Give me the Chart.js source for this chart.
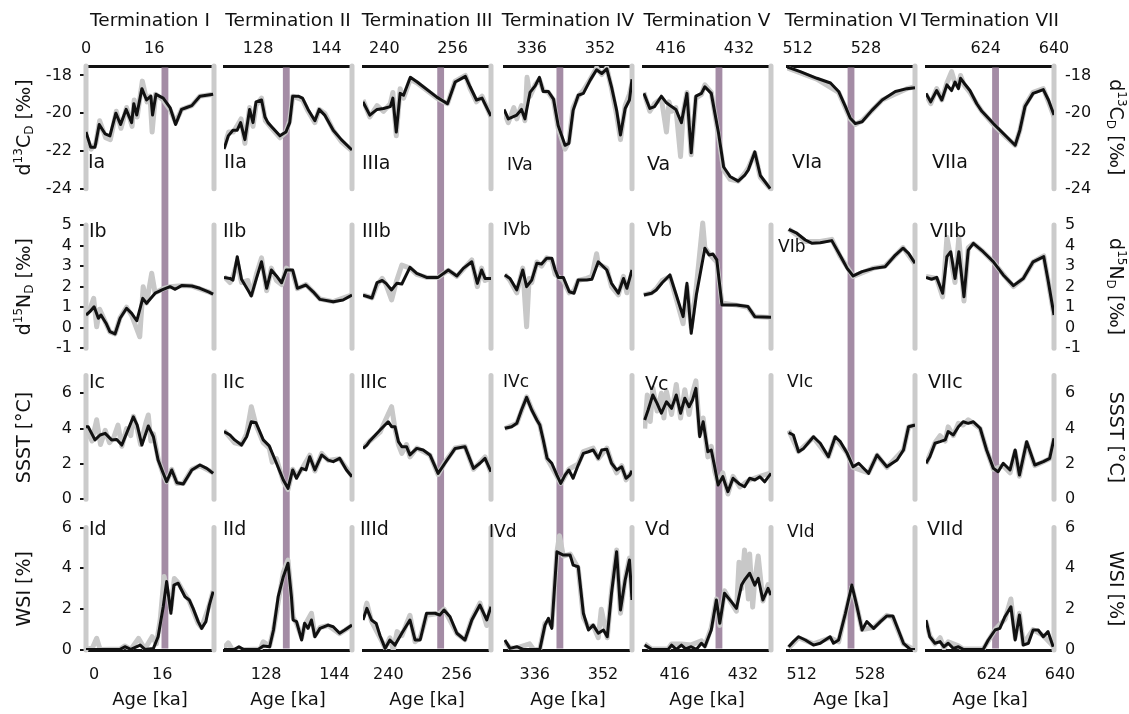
<!DOCTYPE html>
<html>
<head>
<meta charset="utf-8">
<title>Terminations I–VII</title>
<script src="https://cdn.jsdelivr.net/npm/chart.js@4.4.1/dist/chart.umd.min.js"></script>
<style>
  html, body { margin: 0; padding: 0; background: #fff; }
  #fig { position: relative; width: 1129px; height: 714px; overflow: hidden; }
  #fig canvas { position: absolute; top: 0; }
</style>
</head>
<body>
<div id="fig"></div>
<script>
// --- columns (one per termination) ---
const terminations = ['I', 'II', 'III', 'IV', 'V', 'VI', 'VII'];
const ageRanges = [[0, 30], [120, 150], [235, 265], [329.5, 359.5], [409.5, 439.5], [509.5, 539.5], [610, 640]];
const ageTicks = [[0, 16], [128, 144], [240, 256], [336, 352], [416, 432], [512, 528], [624, 640]];
const bandAges = [18.5, 134.6, 253.2, 342.6, 427.3, 524.5, 626.3];
const bandWidth = 1.6;

// --- rows (one per proxy) ---
const rowLetters = ['a', 'b', 'c', 'd'];
const rowRanges = [[-24, -17.5], [-1, 5], [0, 7], [0, 6]];
const rowTicks = [[-24, -22, -20, -18], [-1, 0, 1, 2, 3, 4, 5], [0, 2, 4, 6], [0, 2, 4, 6]];

// --- series: [age ka, value], one list per column ---
const d13cBlack = [
  [[0,-21.0],[1.1,-21.8],[2.1,-21.8],[3.1,-20.6],[4.5,-21.1],[5.6,-21.2],[7.0,-20.0],[8.1,-20.6],[9.4,-19.8],[10.7,-20.5],[11.2,-19.5],[11.9,-20.1],[13.1,-18.7],[14.2,-19.3],[15.2,-19.1],[15.6,-20.1],[16.4,-19.0],[18.1,-19.2],[19.7,-19.7],[21.0,-20.6],[22.4,-19.8],[23.6,-19.7],[24.8,-19.6],[26.7,-19.1],[29.8,-19.0]],
  [[120,-21.9],[121.0,-21.2],[122.1,-20.9],[123.1,-20.9],[123.9,-20.5],[124.9,-21.4],[126.0,-19.8],[126.8,-20.5],[127.5,-19.4],[128.8,-19.3],[129.6,-20.2],[130.3,-20.5],[131.1,-20.7],[133.1,-21.2],[134.5,-21.0],[135.4,-20.5],[136.1,-19.1],[137.4,-19.1],[138.4,-19.2],[139.7,-19.8],[141.3,-20.4],[142.3,-19.8],[143.6,-20.1],[145.6,-20.9],[147.5,-21.4],[150,-21.95]],
  [[235,-19.4],[236.6,-20.1],[238.3,-19.8],[239.8,-19.75],[241.4,-19.65],[242.0,-19.2],[242.8,-21.0],[243.7,-18.95],[244.5,-19.05],[246.1,-18.1],[247.7,-18.35],[252.3,-19.15],[254.8,-19.5],[256.6,-18.35],[259.0,-18.05],[260.1,-18.6],[261.6,-19.3],[262.9,-19.2],[265,-20.15]],
  [[329.5,-19.8],[330.5,-20.3],[332.5,-20.1],[333.6,-19.8],[334.4,-20.3],[335.6,-18.9],[336.8,-18.55],[337.8,-18.1],[338.7,-18.85],[339.9,-18.85],[341.1,-19.25],[342.2,-20.65],[343.8,-21.7],[344.7,-21.6],[345.7,-19.85],[346.9,-19.05],[348.1,-18.95],[349.7,-18.25],[351.2,-17.7],[352.4,-17.9],[353.6,-17.65],[354.7,-18.6],[355.9,-19.85],[356.8,-21.15],[357.9,-19.75],[358.9,-19.3],[359.5,-18.2]],
  [[409.7,-18.95],[411.1,-19.75],[412.2,-19.65],[413.8,-19.1],[415.0,-19.45],[416.2,-19.65],[417.2,-19.8],[418.5,-20.5],[419.8,-18.95],[420.8,-22.1],[421.9,-19.1],[423.2,-18.95],[424.0,-18.6],[425.5,-18.95],[427.2,-21.05],[428.4,-22.85],[429.9,-23.35],[431.8,-23.6],[433.3,-23.3],[434.2,-23.0],[435.7,-22.05],[437.0,-23.3],[439.3,-24.0]],
  [[509.5,-17.55],[512.6,-17.8],[516.5,-18.15],[519.7,-18.4],[521.6,-18.85],[523.2,-19.65],[524.3,-20.25],[525.5,-20.55],[527.1,-20.45],[529.4,-19.85],[531.8,-19.3],[534.9,-18.85],[537.6,-18.7],[539.5,-18.65]],
  [[610,-18.95],[611.1,-19.4],[612.5,-18.8],[613.7,-19.3],[614.9,-18.5],[616.0,-18.8],[616.8,-18.35],[617.6,-18.7],[618.1,-18.15],[618.9,-18.4],[620.3,-18.8],[621.9,-19.5],[623.1,-19.9],[625.8,-20.55],[628.9,-21.25],[630.9,-21.7],[632.0,-20.9],[633.2,-19.65],[635.1,-18.95],[637.5,-18.75],[638.7,-19.3],[640,-20.1]]
];
const d13cGrey = [
  [[0,-21.2],[1.2,-21.9],[2.3,-21.6],[3.2,-20.4],[4.6,-21.3],[5.7,-21.4],[7.1,-19.9],[8.2,-20.8],[9.5,-19.7],[10.8,-20.7],[11.3,-19.3],[12.0,-20.2],[13.2,-18.3],[14.3,-19.4],[15.0,-19.1],[15.5,-21.0],[16.3,-19.0],[18.1,-19.3],[19.7,-19.8],[21.0,-20.5],[22.4,-19.8],[24.8,-19.6],[26.7,-19.1],[29.8,-19.0]],
  [[120,-21.8],[121.1,-21.0],[122.2,-21.0],[123.0,-20.7],[124.0,-20.3],[124.9,-21.6],[126.0,-19.7],[126.8,-20.7],[127.5,-19.6],[128.8,-19.2],[129.7,-20.4],[131.2,-20.8],[133.1,-21.3],[134.5,-21.0],[135.4,-20.4],[136.1,-19.1],[138.4,-19.3],[139.7,-19.9],[141.3,-20.5],[142.3,-19.8],[143.6,-20.0],[145.6,-20.9],[147.5,-21.5],[150,-22.0]],
  [[235,-19.3],[236.6,-20.2],[238.3,-19.6],[239.8,-19.9],[241.4,-19.5],[242.0,-18.9],[242.8,-21.2],[243.7,-18.7],[244.5,-19.2],[246.1,-18.2],[247.7,-18.4],[252.3,-19.2],[254.8,-19.5],[256.6,-18.3],[259.0,-18.0],[260.1,-18.7],[261.6,-19.4],[262.9,-19.1],[265,-20.2]],
  [[329.5,-19.9],[330.5,-20.5],[331.8,-19.7],[332.5,-20.3],[333.6,-19.6],[334.4,-20.4],[334.9,-18.1],[335.6,-19.1],[336.8,-18.5],[337.8,-18.2],[338.7,-18.8],[339.9,-18.9],[341.1,-19.3],[342.2,-20.8],[343.8,-21.9],[344.7,-21.5],[345.7,-19.7],[346.9,-19.1],[348.1,-18.8],[349.7,-18.2],[351.2,-17.6],[352.4,-17.95],[353.6,-17.6],[354.7,-18.7],[355.9,-20.1],[356.8,-21.4],[357.9,-19.6],[358.9,-19.0],[359.5,-18.4]],
  [[409.7,-18.9],[411.1,-19.9],[412.2,-19.5],[413.8,-19.2],[415.0,-21.0],[415.6,-19.4],[416.2,-19.9],[417.2,-19.7],[418.3,-22.3],[418.9,-20.0],[419.8,-18.9],[420.8,-22.2],[421.9,-19.2],[423.2,-19.0],[424.0,-18.5],[425.5,-18.9],[427.2,-21.2],[428.4,-23.0],[429.9,-23.5],[431.8,-23.6],[433.3,-23.2],[434.2,-22.9],[435.7,-22.1],[437.0,-23.4],[439.3,-24.0]],
  [[509.5,-17.6],[516.5,-18.2],[521.6,-18.9],[524.3,-20.3],[525.5,-20.6],[527.1,-20.4],[531.8,-19.3],[537.6,-18.7],[539.5,-18.6]],
  [[610,-19.0],[611.1,-19.5],[612.5,-18.7],[613.7,-19.3],[614.9,-18.4],[616.0,-17.8],[616.8,-18.4],[617.6,-18.6],[618.1,-18.0],[618.9,-18.5],[620.3,-18.9],[621.9,-19.5],[623.1,-19.9],[625.8,-20.6],[628.9,-21.3],[630.9,-21.7],[632.0,-20.9],[633.2,-19.6],[635.1,-18.9],[637.5,-18.7],[638.7,-19.4],[640,-20.2]]
];
const d15nBlack = [
  [[0,0.62],[0.9,0.78],[1.9,1.02],[2.9,0.46],[3.5,0.62],[4.7,0.22],[5.6,-0.19],[6.8,-0.3],[8.0,0.46],[9.5,0.95],[10.7,0.7],[11.9,0.34],[13.3,1.43],[14.2,1.19],[16.2,1.68],[18.1,1.87],[19.7,2.0],[20.9,1.87],[22.4,2.05],[24.8,2.03],[26.7,1.92],[28.7,1.75],[29.8,1.64]],
  [[120,2.45],[121.4,2.4],[122.1,2.32],[123.1,3.46],[124.1,2.36],[125.6,1.84],[126.4,1.55],[127.6,2.4],[128.8,3.21],[130.0,1.92],[131.1,2.81],[132.3,2.52],[133.5,2.19],[134.6,2.81],[136.1,2.81],[137.2,1.92],[139.2,2.08],[140.9,1.75],[142.5,1.38],[145.6,1.27],[147.9,1.35],[150,1.59]],
  [[235,1.59],[236.2,1.51],[237.1,1.45],[238.3,2.2],[239.5,2.3],[240.4,2.16],[241.7,1.84],[242.9,2.16],[244.1,2.13],[246.0,2.94],[247.6,2.65],[249.9,2.45],[252.6,2.45],[255.0,2.81],[257.0,2.52],[258.5,2.89],[260.5,3.21],[261.8,2.16],[262.8,2.81],[263.6,2.4],[265,2.4]],
  [[329.7,2.57],[330.9,2.4],[332.5,1.84],[333.9,2.81],[334.8,2.0],[336.0,2.32],[337.2,3.14],[338.3,3.1],[339.5,3.38],[340.7,3.38],[341.5,2.81],[342.2,2.45],[343.4,2.45],[344.8,1.75],[345.9,1.68],[346.9,2.32],[348.9,2.32],[350.1,2.36],[351.6,3.21],[353.6,2.81],[354.7,2.16],[356.3,1.68],[357.5,2.4],[358.3,1.92],[359.5,2.81]],
  [[409.7,1.59],[411.5,1.68],[412.6,1.84],[414.0,2.19],[415.8,2.57],[417.3,1.59],[418.9,0.54],[419.8,2.16],[420.8,-0.27],[422.0,1.59],[424.0,3.87],[425.0,3.54],[425.9,3.59],[426.8,3.3],[428.0,1.11],[431.4,1.11],[434.1,1.03],[435.7,0.54],[439.5,0.51]],
  [[509.9,4.79],[511.8,4.6],[513.8,4.27],[515.4,4.11],[517.3,4.14],[520.0,4.24],[521.9,3.54],[523.6,2.89],[525.0,2.52],[527.1,2.73],[529.8,2.89],[532.5,2.97],[534.9,3.54],[536.7,3.87],[538.0,3.62],[539.5,3.14]],
  [[610,2.45],[611.3,2.36],[612.5,2.45],[613.9,1.68],[614.9,3.46],[615.8,3.7],[616.8,2.4],[617.7,3.7],[618.9,1.51],[619.9,3.78],[621.1,4.11],[623.4,3.7],[625.8,3.21],[628.1,2.57],[630.5,2.05],[632.8,2.4],[635.1,3.21],[637.6,3.46],[638.6,2.32],[640,0.62]]
];
const d15nGrey = [
  [[0,0.6],[0.9,0.9],[1.8,1.43],[2.5,0.05],[3.2,0.9],[4.7,0.2],[5.6,-0.2],[6.8,-0.3],[8.0,0.5],[9.5,1.0],[10.7,0.6],[12.6,-0.44],[13.4,2.0],[14.2,1.2],[15.4,2.65],[16.2,1.7],[18.1,1.9],[19.7,2.0],[22.4,2.05],[24.8,2.03],[28.7,1.75],[29.8,1.64]],
  [[120,2.5],[121.4,2.2],[122.1,2.5],[123.1,3.2],[124.1,2.2],[125.6,2.3],[126.4,1.6],[127.6,2.6],[128.8,3.4],[130.0,1.8],[131.1,2.9],[132.3,2.3],[133.5,2.1],[134.6,2.9],[136.1,2.7],[137.2,1.9],[139.2,2.1],[142.5,1.4],[145.6,1.27],[150,1.6]],
  [[235,1.6],[237.1,1.45],[238.3,2.1],[239.5,2.4],[240.4,2.1],[241.7,1.35],[242.9,2.3],[244.1,3.05],[246.0,2.9],[247.6,2.6],[249.9,2.45],[252.6,2.45],[255.0,2.8],[257.0,2.5],[260.5,3.3],[261.8,2.0],[262.8,2.9],[263.6,2.3],[265,2.4]],
  [[329.7,2.6],[330.9,2.3],[332.5,1.7],[333.9,2.9],[334.8,0.05],[335.4,2.4],[336.0,2.2],[337.2,3.2],[338.3,3.0],[339.5,3.4],[340.7,3.3],[341.5,2.6],[342.2,2.5],[343.4,2.3],[344.8,1.7],[345.9,1.8],[346.9,2.3],[348.9,2.4],[350.1,2.5],[351.2,3.6],[351.6,3.1],[353.6,2.9],[354.7,2.0],[356.3,1.6],[357.5,2.5],[358.3,1.7],[359.5,2.7]],
  [[409.7,1.6],[411.5,1.7],[412.6,1.9],[414.0,2.3],[415.8,2.5],[417.3,1.4],[418.9,0.2],[419.8,2.0],[420.8,0.0],[422.0,2.0],[423.5,5.1],[424.0,3.9],[425.0,3.6],[426.8,3.2],[428.0,1.2],[431.4,1.1],[434.1,1.0],[435.7,0.55],[439.5,0.5]],
  [[509.9,4.8],[513.8,4.2],[517.3,4.2],[520.0,4.3],[521.9,3.5],[525.0,2.5],[529.8,2.9],[532.5,3.0],[536.7,3.9],[539.5,3.1]],
  [[610,2.5],[612.5,2.4],[613.9,1.5],[614.9,4.4],[615.8,3.4],[616.8,2.2],[617.7,4.4],[618.9,1.3],[619.9,3.9],[621.1,4.1],[623.4,3.7],[625.8,3.2],[628.1,2.6],[630.5,2.0],[632.8,2.4],[635.1,3.2],[637.6,3.5],[638.6,2.3],[640,0.6]]
];
const ssstBlack = [
  [[0,4.1],[0.5,4.11],[2.1,3.36],[3.3,3.64],[4.5,3.73],[6.0,3.36],[7.2,3.39],[8.4,3.07],[9.5,3.73],[11.1,4.67],[12.0,4.2],[13.1,3.07],[14.6,4.15],[15.8,3.54],[16.9,2.22],[18.1,1.47],[18.9,1.0],[20.1,1.66],[21.3,0.94],[22.8,0.87],[24.8,1.66],[26.7,1.94],[28.3,1.75],[29.8,1.47]],
  [[120,3.83],[121.4,3.64],[122.5,3.36],[124.1,3.07],[125.3,3.54],[126.4,4.39],[127.5,4.33],[129.2,3.36],[130.6,3.02],[132.3,2.04],[133.9,1.09],[135.0,0.62],[136.1,1.66],[137.0,1.19],[138.2,1.75],[139.2,1.66],[140.1,2.41],[141.3,1.66],[142.9,2.51],[144.4,2.22],[145.6,2.13],[147.1,2.32],[148.7,1.66],[150,1.28]],
  [[235,2.88],[235.9,3.07],[236.6,3.3],[239.0,3.92],[240.9,4.39],[241.7,4.11],[242.5,4.11],[243.3,3.26],[244.1,2.98],[245.2,2.98],[246.0,2.51],[247.6,2.88],[249.1,2.79],[250.7,2.51],[252.6,1.47],[254.2,2.04],[256.6,2.88],[258.9,2.98],[260.9,1.75],[262.4,2.04],[263.6,2.32],[265,1.56]],
  [[329.7,4.02],[331.3,4.11],[332.5,4.3],[333.6,5.05],[334.8,5.77],[336.0,5.05],[337.2,4.49],[337.9,4.2],[338.7,3.36],[339.6,2.32],[340.7,2.04],[341.9,1.37],[342.8,0.9],[343.8,1.37],[344.7,1.66],[345.7,1.19],[346.9,1.94],[348.1,2.6],[349.3,2.69],[350.4,2.79],[351.6,2.32],[352.4,2.79],[353.6,2.83],[354.7,2.04],[355.9,1.66],[357.1,1.84],[358.1,1.19],[359.0,1.37],[359.5,1.62]],
  [[409.9,4.49],[410.7,5.05],[411.8,5.9],[412.8,5.43],[413.8,4.87],[415.0,5.52],[416.2,5.15],[417.3,5.9],[418.3,4.87],[419.3,5.72],[420.3,5.24],[421.1,5.62],[421.9,6.28],[422.8,3.54],[423.6,4.39],[424.7,2.69],[425.5,2.79],[426.3,1.84],[427.1,0.81],[428.2,1.28],[429.4,0.43],[430.6,1.19],[432.2,0.85],[433.3,0.71],[434.5,1.19],[435.7,1.09],[436.9,1.28],[438.0,0.99],[439.5,1.47]],
  [[509.9,3.77],[511.0,3.64],[512.2,2.69],[513.4,2.88],[515.7,3.54],[517.3,3.17],[519.2,2.41],[520.8,3.54],[522.0,3.26],[523.6,2.6],[525.0,1.84],[526.3,2.04],[528.6,1.47],[530.6,2.51],[532.9,1.84],[535.3,2.22],[536.8,2.79],[538.0,4.11],[539.5,4.2]],
  [[610,2.04],[610.9,2.41],[612.1,3.17],[613.3,3.26],[614.5,3.36],[615.2,3.83],[616.4,3.64],[617.6,4.11],[618.7,4.39],[619.9,4.3],[621.1,4.39],[622.7,4.02],[624.2,2.79],[625.8,1.75],[626.9,1.56],[628.1,2.04],[629.7,1.66],[630.9,2.79],[631.9,1.37],[633.6,3.26],[635.5,1.94],[637.5,2.13],[639.0,2.32],[640,3.45]]
];
const ssstGrey = [
  [[0,4.0],[1.4,3.3],[2.5,4.5],[3.4,3.1],[4.5,3.9],[5.5,3.2],[6.5,3.5],[7.5,4.2],[8.4,3.0],[9.5,4.0],[10.5,3.6],[11.1,4.7],[12.0,4.0],[12.8,3.1],[14.0,4.3],[14.6,4.77],[15.2,3.3],[15.8,3.7],[16.9,2.3],[18.1,1.4],[18.9,1.0],[20.1,1.7],[21.3,0.9],[22.8,0.9],[24.8,1.7],[26.7,1.9],[29.8,1.5]],
  [[120,3.9],[122.5,3.2],[124.1,3.1],[125.3,3.7],[126.4,5.24],[127.5,4.2],[129.2,3.2],[130.6,2.9],[131.3,2.1],[132.3,2.3],[133.9,1.0],[135.0,0.55],[136.1,1.7],[137.0,1.3],[138.2,1.7],[140.1,2.5],[141.3,1.6],[142.9,2.6],[144.4,2.2],[147.1,2.3],[150,1.3]],
  [[235,2.9],[236.6,3.3],[239.0,3.8],[240.3,4.5],[241.7,5.24],[242.5,4.0],[243.3,3.1],[244.1,2.6],[245.2,3.1],[246.0,2.4],[247.6,2.9],[250.7,2.5],[252.6,1.4],[254.2,2.1],[256.6,2.9],[258.9,3.0],[260.9,1.7],[263.6,2.4],[265,1.5]],
  [[329.7,4.0],[332.5,4.3],[333.6,5.0],[334.8,5.8],[336.0,5.1],[337.9,4.2],[339.6,2.3],[341.9,1.3],[342.8,0.9],[344.7,1.7],[346.9,2.0],[348.1,2.7],[350.4,2.9],[351.6,2.3],[353.6,2.9],[354.7,2.1],[355.9,1.5],[357.1,1.9],[358.1,1.1],[359.5,1.6]],
  [[409.9,4.0],[410.5,5.9],[411.2,4.4],[411.8,6.3],[412.8,5.0],[413.8,6.0],[414.4,4.6],[415.0,6.1],[416.2,4.8],[417.3,6.5],[418.3,4.6],[419.3,6.2],[420.3,4.8],[421.1,6.0],[421.9,6.7],[422.8,3.7],[423.6,4.6],[424.7,2.4],[425.5,3.0],[426.3,1.6],[427.1,0.9],[428.2,1.5],[429.4,0.3],[430.6,1.3],[432.2,0.7],[433.3,0.9],[434.5,1.1],[436.9,1.3],[439.5,1.5]],
  [[509.9,3.9],[512.2,2.7],[515.7,3.5],[519.2,2.4],[520.8,3.5],[523.6,2.6],[525.0,1.8],[528.6,1.5],[530.6,2.5],[532.9,1.8],[536.8,2.8],[538.0,4.1],[539.5,4.2]],
  [[610,2.0],[612.1,3.2],[613.3,3.6],[614.5,3.3],[615.2,4.1],[616.4,3.6],[617.6,4.3],[618.7,4.2],[619.9,4.5],[621.1,4.3],[622.7,4.0],[624.2,2.8],[625.8,1.7],[628.1,1.9],[629.7,1.5],[630.9,2.7],[631.9,1.3],[633.6,3.2],[635.5,1.9],[639.0,2.3],[640,3.4]]
];
const wsiBlack = [
  [[0,0.03],[8.0,0.03],[9.1,0.16],[10.5,0.03],[12.7,0.24],[13.8,0.03],[15.8,0.08],[16.9,0.65],[18.1,2.12],[18.9,3.35],[19.9,1.8],[20.6,3.18],[21.6,3.27],[22.4,2.94],[23.2,2.61],[24.2,2.45],[25.1,2.04],[26.3,1.39],[27.1,1.06],[28.1,1.39],[28.9,2.2],[29.8,2.86]],
  [[120,0.03],[122.5,0.03],[123.5,0.16],[124.5,0.03],[128.0,0.03],[129.2,0.2],[130.7,0.16],[131.6,0.98],[132.7,2.61],[133.9,3.59],[135.0,4.25],[135.8,2.61],[136.2,1.47],[137.0,1.39],[138.2,0.49],[138.9,1.31],[139.7,1.06],[140.5,1.47],[141.3,0.65],[142.5,1.06],[144.4,1.22],[145.6,1.14],[147.1,0.82],[148.3,0.98],[150,1.22]],
  [[235,1.47],[235.9,2.04],[237.0,1.47],[238.1,1.3],[239.0,0.7],[240.2,0.08],[241.3,0.49],[242.5,0.24],[244.1,0.82],[246.0,1.47],[247.2,0.49],[248.4,0.49],[249.9,1.8],[251.9,1.8],[253.0,1.71],[254.0,1.96],[255.4,1.63],[257.0,0.82],[258.9,0.49],[260.5,1.47],[262.4,2.2],[264.0,1.47],[265,2.12]],
  [[329.7,0.49],[330.9,0.08],[332.5,0.16],[334.0,0.03],[337.9,0.03],[339.1,1.22],[339.9,1.55],[340.7,1.06],[341.9,4.81],[343.4,4.65],[345.0,4.65],[345.7,4.16],[346.9,4.08],[348.1,1.8],[349.3,0.98],[350.4,1.22],[351.6,0.82],[352.8,0.98],[353.7,0.65],[354.7,2.78],[355.9,4.81],[356.8,1.96],[357.9,3.43],[358.9,4.41],[359.5,2.45]],
  [[409.9,0.24],[411.5,0.03],[415.4,0.03],[416.2,0.24],[417.3,0.03],[418.5,0.24],[419.5,0.05],[420.8,0.16],[422.0,0.03],[423.2,0.33],[424.0,0.16],[425.5,0.98],[426.7,2.45],[427.5,1.31],[428.6,2.78],[430.2,2.37],[431.4,2.04],[432.6,3.18],[433.3,3.43],[434.5,3.76],[435.7,3.18],[436.5,3.51],[437.6,2.45],[438.8,3.02],[439.5,2.69]],
  [[509.9,0.16],[511.0,0.41],[512.2,0.65],[513.8,0.49],[515.7,0.24],[517.3,0.33],[519.6,0.65],[520.4,0.33],[521.6,0.49],[523.2,1.8],[524.7,3.18],[525.9,2.12],[527.1,0.98],[528.2,1.39],[529.8,1.06],[531.4,1.39],[532.9,1.67],[534.3,1.67],[535.3,1.14],[536.8,0.33],[538.4,0.03],[539.5,0.03]],
  [[610,1.47],[610.9,0.65],[612.1,0.33],[613.3,0.41],[614.2,0.16],[615.2,0.33],[616.4,0.08],[617.6,0.16],[618.7,0.03],[623.4,0.03],[624.6,0.49],[626.2,0.98],[627.3,1.06],[628.5,1.63],[629.9,2.12],[630.9,0.49],[631.9,1.71],[632.8,0.24],[634.0,0.33],[635.1,0.98],[636.3,0.98],[637.5,0.65],[638.6,0.9],[639.8,0.16]]
];
const wsiGrey = [
  [[0,0.03],[1.5,0.1],[2.5,0.57],[3.3,0.03],[8.0,0.05],[9.1,0.2],[10.5,0.03],[12.3,0.57],[13.8,0.05],[15.5,0.65],[16.5,0.3],[17.4,1.5],[18.3,3.6],[19.9,2.0],[20.7,3.5],[21.6,3.3],[22.4,3.0],[24.2,2.4],[26.3,1.3],[27.1,1.1],[28.9,2.2],[29.8,2.9]],
  [[120,0.1],[121.0,0.35],[122.0,0.0],[128.5,0.05],[129.2,0.4],[130.7,0.2],[131.6,1.0],[133.9,3.8],[135.0,4.4],[135.8,2.7],[136.2,1.6],[137.0,1.3],[138.2,0.6],[138.9,1.2],[140.5,1.8],[141.3,0.7],[142.5,1.1],[144.4,1.2],[147.1,0.8],[150,1.2]],
  [[235,1.6],[235.9,2.3],[237.0,1.4],[239.0,0.6],[240.2,0.1],[241.3,0.6],[242.1,0.0],[243.0,0.9],[244.1,0.7],[246.0,1.7],[247.2,0.4],[248.4,0.6],[249.9,1.7],[253.0,1.8],[254.0,2.0],[257.0,0.8],[258.9,0.5],[260.5,1.5],[262.4,2.3],[264.0,1.2],[265,2.2]],
  [[329.7,0.4],[330.9,0.1],[332.5,0.1],[335.5,0.3],[336.5,0.0],[337.9,0.05],[339.1,1.3],[339.9,1.4],[340.7,1.2],[341.9,4.8],[342.5,5.6],[343.4,4.6],[345.0,4.7],[346.9,4.0],[348.1,1.6],[349.3,1.1],[350.4,1.2],[351.6,0.6],[352.3,2.0],[353.7,0.6],[354.7,2.9],[355.9,4.9],[356.8,1.8],[357.9,3.5],[358.9,4.5],[359.5,2.6]],
  [[409.9,0.3],[411.5,0.05],[415.4,0.05],[416.2,0.3],[418.5,0.3],[420.8,0.25],[423.2,0.45],[424.0,0.2],[425.5,1.1],[426.7,2.5],[427.5,1.2],[428.6,2.9],[430.2,2.3],[431.4,1.9],[432.0,4.3],[432.6,3.0],[433.3,4.9],[434.2,2.5],[434.5,4.7],[435.2,2.1],[435.7,3.4],[436.5,4.6],[437.6,2.4],[438.8,3.2],[439.5,2.7]],
  [[509.9,0.1],[512.2,0.6],[515.7,0.3],[519.6,0.6],[521.6,0.4],[523.2,1.8],[524.7,3.1],[525.9,2.1],[527.1,1.0],[529.8,1.1],[532.9,1.7],[534.3,1.6],[536.8,0.3],[539.5,0.0]],
  [[610,1.4],[610.9,0.7],[612.1,0.3],[613.3,0.6],[614.2,0.1],[615.2,0.4],[617.6,0.2],[618.7,0.05],[623.4,0.05],[626.2,1.0],[628.5,1.5],[629.9,2.5],[630.9,0.6],[631.9,1.8],[632.8,0.3],[635.1,1.0],[637.5,0.7],[639.8,0.2]]
];

const blackRows = [d13cBlack, d15nBlack, ssstBlack, wsiBlack];
const greyRows = [d13cGrey, d15nGrey, ssstGrey, wsiGrey];

// y-axis titles: [text, 0 normal | 1 superscript | -1 subscript]
const yTitles = [
  [['d', 0], ['13', 1], ['C', 0], ['D', -1], [' [‰]', 0]],
  [['d', 0], ['15', 1], ['N', 0], ['D', -1], [' [‰]', 0]],
  [['SSST [°C]', 0]],
  [['WSI [%]', 0]]
];

// --- layout (page pixels) ---
const colLeft = [86, 224, 363, 504, 643, 787, 926];
const plotWidth = 128;
const rowPixels = [[66, 188.7], [225, 348.3], [375.6, 499.3], [527.5, 650]];
const segBounds = [66, 206.85, 361.95, 513.4, 650];
const bottomShift = [8, 8, 4, 3, 4, 4, 6];
const labelDx = [[2, 0, -1, 3, 4, 5, 6], [3, -1, -1, -1, 4, -9, 4], [3, -1, -3, -1, 2, 0, 2], [3, -1, -3, -15, 2, 0, 1]];
const labelY = [[163, 163, 164, 166, 165, 163, 163], [232, 232, 232, 231, 231, 248, 232], [383, 383, 383, 383, 385, 383, 383], [530, 530, 530, 533, 530, 533, 530]];

const INK = '#111111';
const GREY_LINE = '#c8c8c8';
const GREY_BAR = '#cbcbcb';
const PURPLE = '#a48ca5';
const FONT = '"DejaVu Sans", sans-serif';

Chart.defaults.font.family = FONT;
Chart.defaults.font.size = 16;
Chart.defaults.color = INK;

// purple termination band over the whole column
const bandPlugin = {
  id: 'band',
  beforeDatasetsDraw(chart, args, opts) {
    const { ctx, chartArea } = chart;
    const x = chart.scales.x;
    const a = x.getPixelForValue(opts.age - bandWidth / 2);
    const b = x.getPixelForValue(opts.age + bandWidth / 2);
    ctx.save();
    ctx.fillStyle = PURPLE;
    ctx.fillRect(a, chartArea.top + 1.5, b - a, chartArea.bottom - chartArea.top - 3);
    ctx.restore();
  }
};

function drawRotated(ctx, parts, x, y, angle) {
  const fontFor = k => (k === 0 ? 19 : 12) + 'px ' + FONT;
  ctx.save();
  ctx.translate(x, y);
  ctx.rotate(angle);
  ctx.textAlign = 'left';
  ctx.textBaseline = 'middle';
  let total = 0;
  parts.forEach(([t, k]) => { ctx.font = fontFor(k); total += ctx.measureText(t).width; });
  let pos = -total / 2;
  parts.forEach(([t, k]) => {
    ctx.font = fontFor(k);
    ctx.fillText(t, pos, k === 1 ? -6 : k === -1 ? 5 : 0);
    pos += ctx.measureText(t).width;
  });
  ctx.restore();
}

// column titles, panel labels, y-axis titles
const textPlugin = {
  id: 'panelText',
  afterDraw(chart, args, opts) {
    const c = opts.col;
    const { ctx, chartArea } = chart;
    ctx.save();
    ctx.fillStyle = INK;
    ctx.textBaseline = 'middle';
    ctx.textAlign = 'center';
    ctx.font = '18.5px ' + FONT;
    ctx.fillText('Termination ' + terminations[c], (chartArea.left + chartArea.right) / 2, 21);
    ctx.textAlign = 'left';
    rowLetters.forEach((letter, r) => {
      const small = c === 3 || (c === 5 && r > 0);
      ctx.font = (small ? 17 : 19) + 'px ' + FONT;
      ctx.fillText(terminations[c] + letter, chartArea.left + labelDx[r][c], labelY[r][c]);
    });
    if (c === 0 || c === 6) {
      rowRanges.forEach(([lo, hi], r) => {
        const s = chart.scales['y' + r];
        const yc = (s.getPixelForValue(lo) + s.getPixelForValue(hi)) / 2;
        if (c === 0) drawRotated(ctx, yTitles[r], chartArea.left - 61, yc, -Math.PI / 2);
        else drawRotated(ctx, yTitles[r], chartArea.right + 61, yc, Math.PI / 2);
      });
    }
    ctx.restore();
  }
};

const fig = document.getElementById('fig');

terminations.forEach((term, c) => {
  const axisL = c === 0 ? 86 : 0;
  const axisR = c === 6 ? 75 : 0;
  const padL = c === 0 ? 0 : 30;
  const padR = c === 6 ? 0 : 6;
  const canvas = document.createElement('canvas');
  canvas.width = padL + axisL + plotWidth + axisR + padR;
  canvas.height = 714;
  canvas.style.left = (colLeft[c] - padL - axisL) + 'px';
  fig.appendChild(canvas);

  const [xmin, xmax] = ageRanges[c];
  const xCommon = {
    type: 'linear', min: xmin, max: xmax,
    afterBuildTicks: s => { s.ticks = ageTicks[c].map(v => ({ value: v })); },
    grid: { display: false, drawTicks: false },
    border: { display: true, color: INK, width: 3 },
  };
  const scales = {
    x: Object.assign({}, xCommon, {
      position: 'bottom',
      afterFit: s => { s.height = 64; },
      ticks: { padding: 15, labelOffset: bottomShift[c], autoSkip: false, maxRotation: 0, callback: v => String(v) },
      title: { display: true, text: 'Age [ka]', font: { size: 18 }, padding: { top: 0, bottom: 3 } }
    }),
    xTop: Object.assign({}, xCommon, {
      position: 'top',
      afterFit: s => { s.height = 66; },
      ticks: { padding: 8, autoSkip: false, maxRotation: 0, callback: v => String(v) }
    })
  };

  const datasets = [];
  rowRanges.forEach(([lo, hi], r) => {
    const [pTop, pBot] = rowPixels[r];
    const ppu = (pBot - pTop) / (hi - lo);
    const sTop = segBounds[r], sBot = segBounds[r + 1];
    scales['y' + r] = {
      type: 'linear',
      position: c === 6 ? 'right' : 'left',
      stack: 'rows',
      stackWeight: sBot - sTop,
      weight: c === 6 ? r : 4 - r,
      min: lo - (sBot - pBot) / ppu,
      max: hi + (pTop - sTop) / ppu,
      afterBuildTicks: s => { s.ticks = rowTicks[r].map(v => ({ value: v })); },
      afterFit: s => { s.width = c === 0 ? 86 : c === 6 ? 75 : 0; },
      grid: { display: c === 0, drawOnChartArea: false, drawTicks: c === 0, tickLength: 6, color: INK, lineWidth: 2 },
      border: { display: false },
      ticks: { display: c === 0 || c === 6, padding: c === 0 ? 8 : 11, autoSkip: false, callback: v => String(v) }
    };

    const base = { xAxisID: 'x', yAxisID: 'y' + r, pointRadius: 0, tension: 0, fill: false, borderJoinStyle: 'round' };
    datasets.push(Object.assign({}, base, { data: blackRows[r][c], borderColor: INK, borderWidth: 3, order: 0 }));
    datasets.push(Object.assign({}, base, { data: greyRows[r][c], borderColor: GREY_LINE, borderWidth: 5, order: 1 }));
    const edges = c === 0 ? [xmin, xmax] : [xmax];
    edges.forEach(xe => {
      datasets.push(Object.assign({}, base, {
        data: [[xe, lo], [xe, hi]], borderColor: GREY_BAR, borderWidth: 5,
        borderCapStyle: 'round', order: 2, clip: false
      }));
    });
  });

  new Chart(canvas.getContext('2d'), {
    type: 'line',
    data: { datasets },
    options: {
      responsive: false,
      animation: false,
      devicePixelRatio: 1,
      events: [],
      layout: { padding: { left: padL, right: padR, top: 0, bottom: 0 } },
      scales,
      plugins: {
        legend: { display: false },
        tooltip: { enabled: false },
        band: { age: bandAges[c] },
        panelText: { col: c }
      }
    },
    plugins: [bandPlugin, textPlugin]
  });
});
</script>
</body>
</html>
